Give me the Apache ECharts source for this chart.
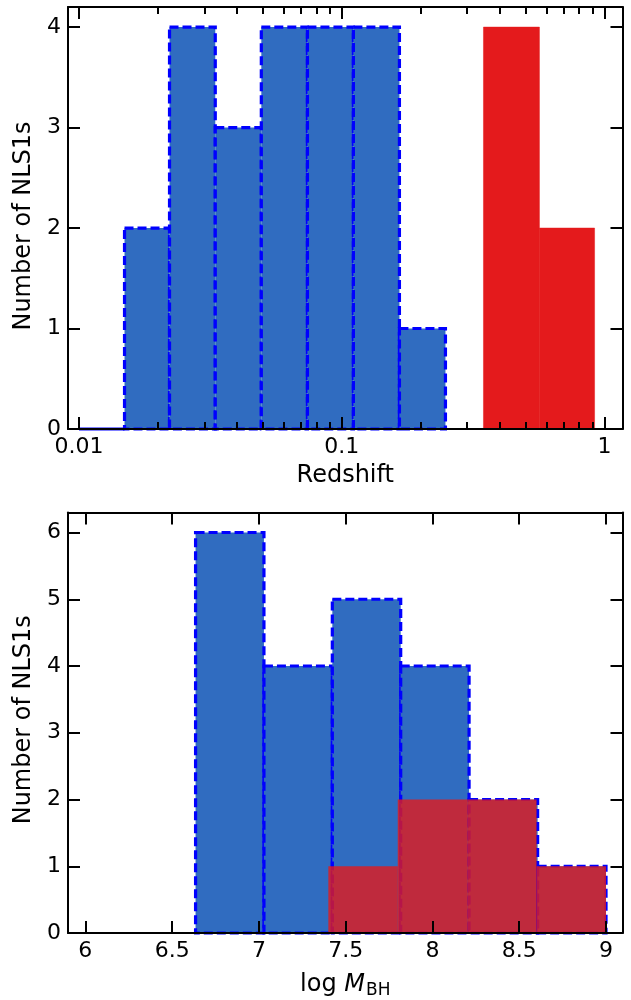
<!DOCTYPE html>
<html>
<head>
<meta charset="utf-8">
<title>NLS1 redshift and black hole mass histograms</title>
<script src="https://cdn.jsdelivr.net/npm/echarts@6/dist/echarts.min.js"></script>
<style>
  html, body { margin: 0; padding: 0; background: #ffffff; }
  #chart { width: 631px; height: 1000px; }
</style>
</head>
<body>
<div id="chart"></div>
<script>
// ---- Redshift histogram (log-spaced bins) ----
const zBlueEdges  = [0.0100, 0.0149, 0.0221, 0.0330, 0.0494, 0.0740, 0.1107, 0.1657, 0.2480];
const zBlueCounts = [0, 2, 4, 3, 4, 4, 4, 1];
const zRedEdges   = [0.346, 0.565, 0.916];
const zRedCounts  = [4, 2];
const zRange      = [0.00908, 1.17];
const zMajorTicks = [0.01, 0.1, 1];
const zMajorLabels = ['0.01', '0.1', '1'];
const zMinorTicks = [0.02, 0.03, 0.04, 0.05, 0.06, 0.07, 0.08, 0.09,
                     0.2, 0.3, 0.4, 0.5, 0.6, 0.7, 0.8, 0.9];
const zCountTicks = [0, 1, 2, 3, 4];
const zCountMax   = 4.2;

// ---- Black hole mass histogram ----
const mBlueEdges  = [6.635, 7.029, 7.423, 7.817, 8.211, 8.606, 9.0];
const mBlueCounts = [6, 4, 5, 4, 2, 1];
const mRedEdges   = [7.4, 7.8, 8.2, 8.6, 9.0];
const mRedCounts  = [1, 2, 2, 1];
const mRange      = [5.9, 9.095];
const mTicks      = [6, 6.5, 7, 7.5, 8, 8.5, 9];
const mTickLabels = ['6', '6.5', '7', '7.5', '8', '8.5', '9'];
const mCountTicks = [0, 1, 2, 3, 4, 5, 6];
const mCountMax   = 6.3;

const FONT = 'DejaVu Sans';
const TICK_FS = 22;
const NAME_FS = 24;
const BLUE_FILL = '#306cc0';
const BLUE_EDGE = '#0000ff';
const RED_FILL = '#e41a1c';

// one histogram bar = [left edge, right edge, count]
function binsOf(edges, counts, toAxis) {
  return counts.map((c, i) => [toAxis(edges[i]), toAxis(edges[i + 1]), c]);
}
const log10 = v => Math.log10(v);
const ident = v => v;

function histRender(style) {
  return function (params, api) {
    const p0 = api.coord([api.value(0), 0]);
    const p1 = api.coord([api.value(1), api.value(2)]);
    return {
      type: 'rect',
      shape: { x: p0[0], y: p1[1], width: p1[0] - p0[0], height: p0[1] - p1[1] },
      style: style
    };
  };
}

const blueStyle = { fill: BLUE_FILL, stroke: BLUE_EDGE, lineWidth: 3.2, lineDash: [9, 4] };
const redSolid  = { fill: RED_FILL, stroke: RED_FILL, lineWidth: 0.5 };
const redAlpha  = { fill: RED_FILL, opacity: 0.8, stroke: null, lineWidth: 0 };

const lineStyle = { color: '#000000', width: 2 };
const labelStyle = { color: '#000000', fontFamily: FONT, fontSize: TICK_FS };
const nameStyle = { color: '#000000', fontFamily: FONT, fontSize: NAME_FS };

// x axis with custom tick positions; side = 'bottom' | 'top'
function xAxisDef(grid, side, range, ticks, tickLen, opts) {
  opts = opts || {};
  return Object.assign({
    type: 'value',
    gridIndex: grid,
    position: side,
    min: range[0],
    max: range[1],
    z: 5,
    axisLine: { show: !opts.noLine, onZero: false, lineStyle: lineStyle },
    axisTick: { show: true, inside: true, length: tickLen, customValues: ticks, lineStyle: lineStyle },
    axisLabel: { show: false },
    splitLine: { show: false },
    minorTick: { show: false }
  }, opts.extra || {});
}

function yAxisDef(grid, side, max, ticks, withLabels, extra) {
  return Object.assign({
    type: 'value',
    gridIndex: grid,
    position: side,
    min: 0,
    max: max,
    z: 5,
    axisLine: { show: true, onZero: false, lineStyle: lineStyle },
    axisTick: { show: true, inside: true, length: 12, customValues: ticks, lineStyle: lineStyle },
    axisLabel: withLabels
      ? Object.assign({ show: true, margin: 7, customValues: ticks, formatter: v => String(Math.round(v)) }, labelStyle)
      : { show: false },
    splitLine: { show: false }
  }, extra || {});
}

const zMajorLog = zMajorTicks.map(log10);
const zMinorLog = zMinorTicks.map(log10);
const zRangeLog = zRange.map(log10);

function zLabel(v) {
  const i = zMajorLog.findIndex(t => Math.abs(t - v) < 1e-9);
  return i >= 0 ? zMajorLabels[i] : '';
}
function mLabel(v) {
  const i = mTicks.findIndex(t => Math.abs(t - v) < 1e-9);
  return i >= 0 ? mTickLabels[i] : '';
}

const yName = 'Number of NLS1s';

const option = {
  animation: false,
  backgroundColor: '#ffffff',
  grid: [
    { left: 68, top: 7, width: 554.5, height: 422 },
    { left: 68, top: 512.5, width: 554.5, height: 421 }
  ],
  xAxis: [
    // redshift panel: labelled bottom axis
    xAxisDef(0, 'bottom', zRangeLog, zMajorLog, 12, { extra: {
      axisLabel: Object.assign({ show: true, margin: 7, customValues: zMajorLog, formatter: zLabel }, labelStyle),
      name: 'Redshift', nameLocation: 'middle', nameGap: 35, nameTextStyle: nameStyle
    }}),
    xAxisDef(0, 'bottom', zRangeLog, zMinorLog, 7, { noLine: true }),
    xAxisDef(0, 'top', zRangeLog, zMajorLog, 12),
    xAxisDef(0, 'top', zRangeLog, zMinorLog, 7, { noLine: true }),
    // black hole mass panel
    xAxisDef(1, 'bottom', mRange, mTicks, 12, { extra: {
      axisLabel: Object.assign({ show: true, margin: 7, customValues: mTicks, formatter: mLabel }, labelStyle),
      name: '{n|log }{m|M}{s|BH}', nameLocation: 'middle', nameGap: 37,
      nameTextStyle: Object.assign({}, nameStyle, {
        rich: {
          n: { fontFamily: FONT, fontSize: NAME_FS, color: '#000' },
          m: { fontFamily: FONT, fontSize: NAME_FS, fontStyle: 'italic', color: '#000' },
          s: { fontFamily: FONT, fontSize: 17, color: '#000', padding: [12, 0, 0, 1] }
        }
      })
    }}),
    xAxisDef(1, 'top', mRange, mTicks, 12)
  ],
  yAxis: [
    yAxisDef(0, 'left', zCountMax, zCountTicks, true, {
      name: yName, nameLocation: 'middle', nameGap: 31, nameRotate: 90,
      nameTextStyle: Object.assign({ padding: [0, 16, 0, 0] }, nameStyle)
    }),
    yAxisDef(0, 'right', zCountMax, zCountTicks, false),
    yAxisDef(1, 'left', mCountMax, mCountTicks, true, {
      name: yName, nameLocation: 'middle', nameGap: 31, nameRotate: 90,
      nameTextStyle: Object.assign({ padding: [0, 0, 0, 6] }, nameStyle)
    }),
    yAxisDef(1, 'right', mCountMax, mCountTicks, false)
  ],
  series: [
    {
      type: 'custom', name: 'NLS1 redshift (blue)', xAxisIndex: 0, yAxisIndex: 0, z: 2,
      renderItem: histRender(blueStyle), encode: { x: [0, 1], y: 2 },
      data: binsOf(zBlueEdges, zBlueCounts, log10)
    },
    {
      type: 'custom', name: 'NLS1 redshift (red)', xAxisIndex: 0, yAxisIndex: 0, z: 2,
      renderItem: histRender(redSolid), encode: { x: [0, 1], y: 2 },
      data: binsOf(zRedEdges, zRedCounts, log10)
    },
    {
      type: 'custom', name: 'BH mass (blue)', xAxisIndex: 4, yAxisIndex: 2, z: 2,
      renderItem: histRender(blueStyle), encode: { x: [0, 1], y: 2 },
      data: binsOf(mBlueEdges, mBlueCounts, ident)
    },
    {
      type: 'custom', name: 'BH mass (red)', xAxisIndex: 4, yAxisIndex: 2, z: 3,
      renderItem: histRender(redAlpha), encode: { x: [0, 1], y: 2 },
      data: binsOf(mRedEdges, mRedCounts, ident)
    }
  ]
};

const chart = echarts.init(document.getElementById('chart'), null, { renderer: 'canvas' });
chart.setOption(option);
</script>
</body>
</html>
